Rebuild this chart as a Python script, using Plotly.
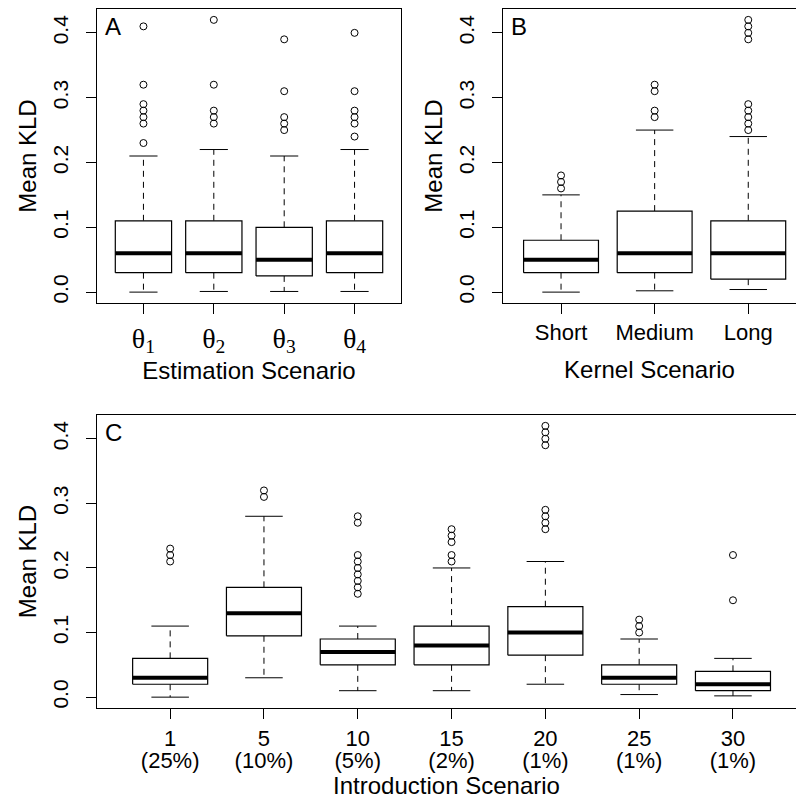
import plotly.graph_objects as go

# ---------------- data ----------------
# Panel A: Estimation Scenario
a_labels = ["θ<sub>1</sub>", "θ<sub>2</sub>", "θ<sub>3</sub>", "θ<sub>4</sub>"]
a_lo = [0.0, 0.001, 0.001, 0.001]
a_q1 = [0.03, 0.03, 0.025, 0.03]
a_med = [0.06, 0.06, 0.05, 0.06]
a_q3 = [0.11, 0.11, 0.10, 0.11]
a_hi = [0.21, 0.22, 0.21, 0.22]
a_out = [
    [0.23, 0.26, 0.27, 0.28, 0.29, 0.32, 0.41],
    [0.26, 0.27, 0.28, 0.32, 0.42],
    [0.25, 0.26, 0.27, 0.31, 0.39],
    [0.24, 0.26, 0.27, 0.28, 0.31, 0.40],
]

# Panel B: Kernel Scenario
b_labels = ["Short", "Medium", "Long"]
b_lo = [0.0, 0.002, 0.004]
b_q1 = [0.03, 0.03, 0.02]
b_med = [0.05, 0.06, 0.06]
b_q3 = [0.08, 0.125, 0.11]
b_hi = [0.15, 0.25, 0.24]
b_out = [
    [0.16, 0.17, 0.18],
    [0.27, 0.28, 0.31, 0.32],
    [0.25, 0.26, 0.27, 0.28, 0.29, 0.39, 0.40, 0.41, 0.42],
]

# Panel C: Introduction Scenario
c_labels = ["1", "5", "10", "15", "20", "25", "30"]
c_pct = ["(25%)", "(10%)", "(5%)", "(2%)", "(1%)", "(1%)", "(1%)"]
c_lo = [0.0, 0.03, 0.01, 0.01, 0.02, 0.004, 0.002]
c_q1 = [0.02, 0.095, 0.05, 0.05, 0.065, 0.02, 0.01]
c_med = [0.03, 0.13, 0.07, 0.08, 0.10, 0.03, 0.02]
c_q3 = [0.06, 0.17, 0.09, 0.11, 0.14, 0.05, 0.04]
c_hi = [0.11, 0.28, 0.11, 0.20, 0.21, 0.09, 0.06]
c_out = [
    [0.21, 0.22, 0.23],
    [0.31, 0.32],
    [0.16, 0.17, 0.18, 0.19, 0.20, 0.21, 0.22, 0.27, 0.28],
    [0.21, 0.22, 0.24, 0.25, 0.26],
    [0.26, 0.27, 0.28, 0.29, 0.39, 0.40, 0.41, 0.42],
    [0.10, 0.11, 0.12],
    [0.15, 0.22],
]

y_ticks = [0.0, 0.1, 0.2, 0.3, 0.4]
y_ticktext = ["0.0", "0.1", "0.2", "0.3", "0.4"]

# ---------------- style ----------------
FONT = "Liberation Sans"
INK = "black"
HALF = 0.4     # half box width (category units)
CAP = 0.2      # half staple width
W, H = 796, 799

fig = go.Figure()


def add_boxes(xa, ya, lo, q1, med, q3, hi, outs, xa_out=None):
    n = len(med)
    bx, by, mx, my, wx, wy, sx, sy, ox, oy = [], [], [], [], [], [], [], [], [], []
    for i in range(n):
        c = i + 1
        bx += [c - HALF, c + HALF, c + HALF, c - HALF, c - HALF, None]
        by += [q1[i], q1[i], q3[i], q3[i], q1[i], None]
        mx += [c - HALF, c + HALF, None]
        my += [med[i], med[i], None]
        wx += [c, c, None, c, c, None]
        wy += [q3[i], hi[i], None, q1[i], lo[i], None]
        sx += [c - CAP, c + CAP, None, c - CAP, c + CAP, None]
        sy += [hi[i], hi[i], None, lo[i], lo[i], None]
        for v in outs[i]:
            ox.append(c)
            oy.append(v)
    common = dict(yaxis=ya, showlegend=False, hoverinfo="skip")
    fig.add_trace(go.Scatter(x=wx, y=wy, mode="lines", xaxis=xa,
                             line=dict(color=INK, width=1, dash="6px,5px"), **common))
    fig.add_trace(go.Scatter(x=sx, y=sy, mode="lines", xaxis=xa,
                             line=dict(color=INK, width=1), **common))
    fig.add_trace(go.Scatter(x=bx, y=by, mode="lines", fill="toself", fillcolor="white",
                             xaxis=xa, line=dict(color=INK, width=1.2), **common))
    fig.add_trace(go.Scatter(x=mx, y=my, mode="lines", xaxis=xa,
                             line=dict(color=INK, width=4), **common))
    fig.add_trace(go.Scatter(x=ox, y=oy, mode="markers", xaxis=xa_out or xa,
                             marker=dict(symbol="circle-open", size=7, color=INK,
                                         line=dict(width=1, color=INK)), **common))


add_boxes("x", "y", a_lo, a_q1, a_med, a_q3, a_hi, a_out)
add_boxes("x2", "y2", b_lo, b_q1, b_med, b_q3, b_hi, b_out)
add_boxes("x3", "y3", c_lo, c_q1, c_med, c_q3, c_hi, c_out, xa_out="x4")


def px_x(p):
    return p / W


def px_y(p):
    return 1 - p / H


yrange = [-0.0168, 0.4368]


def yaxis(domain, anchor, mirror):
    return dict(domain=domain, anchor=anchor, range=yrange, tickvals=y_ticks,
                ticktext=y_ticktext, tickangle=-90, ticks="outside", ticklen=10,
                tickcolor=INK, showline=True, linecolor=INK, linewidth=1,
                mirror=mirror, showgrid=False, zeroline=False, ticklabelstandoff=10,
                tickfont=dict(family=FONT, size=21, color=INK),
                title=dict(text="Mean KLD", font=dict(family=FONT, size=24, color=INK),
                           standoff=5))


def xaxis(domain, anchor, rng, labels, title=None, tsize=22, family=FONT, standoff=10,
          lblstand=0):
    ax = dict(domain=domain, anchor=anchor, range=rng,
              tickvals=list(range(1, len(labels) + 1)), ticktext=labels,
              ticks="outside", ticklen=10, tickcolor=INK, showline=True,
              linecolor=INK, linewidth=1, mirror=True, showgrid=False,
              zeroline=False, ticklabelstandoff=lblstand,
              tickfont=dict(family=family, size=tsize, color=INK))
    if title:
        ax["title"] = dict(text=title, font=dict(family=FONT, size=24, color=INK),
                           standoff=standoff)
    return ax


top_dom = [px_y(303), px_y(9)]
bot_dom = [px_y(708), px_y(415)]
c_range = [0.22, 7.672]

fig.update_layout(
    width=W, height=H,
    margin=dict(l=0, r=0, t=0, b=0),
    paper_bgcolor="white", plot_bgcolor="white",
    font=dict(family=FONT, color=INK),
    xaxis=xaxis([px_x(97), px_x(401)], "y", [0.34, 4.66], a_labels,
                "Estimation Scenario", tsize=28, family="Liberation Serif", standoff=0),
    yaxis=yaxis(top_dom, "x", True),
    xaxis2=xaxis([px_x(503), 1.0], "y2", [0.38, 3.51], b_labels, "Kernel Scenario",
                 standoff=16),
    yaxis2=yaxis(top_dom, "x2", False),
    xaxis3=xaxis([px_x(97), 1.0], "y3", c_range, c_labels, lblstand=1),
    yaxis3=yaxis(bot_dom, "x3", False),
    xaxis4=dict(overlaying="x3", anchor="y3", range=c_range,
                tickvals=list(range(1, len(c_pct) + 1)), ticktext=c_pct,
                ticks="outside", ticklen=10, tickcolor="rgba(0,0,0,0)",
                showline=False, showgrid=False, zeroline=False,
                side="bottom", ticklabelstandoff=23,
                tickfont=dict(family=FONT, size=22, color=INK),
                title=dict(text="Introduction Scenario",
                           font=dict(family=FONT, size=24, color=INK), standoff=7)),
)

for letter, xr, yr in [("A", "x domain", "y domain"), ("B", "x2 domain", "y2 domain"),
                       ("C", "x3 domain", "y3 domain")]:
    fig.add_annotation(text=letter, xref=xr, yref=yr, x=0, y=1, xanchor="left",
                       yanchor="top", xshift=6, yshift=-2, showarrow=False,
                       font=dict(family=FONT, size=24, color=INK))

fig.write_html("out.html", config={"displayModeBar": False},
               post_script="document.body.style.margin='0';")
